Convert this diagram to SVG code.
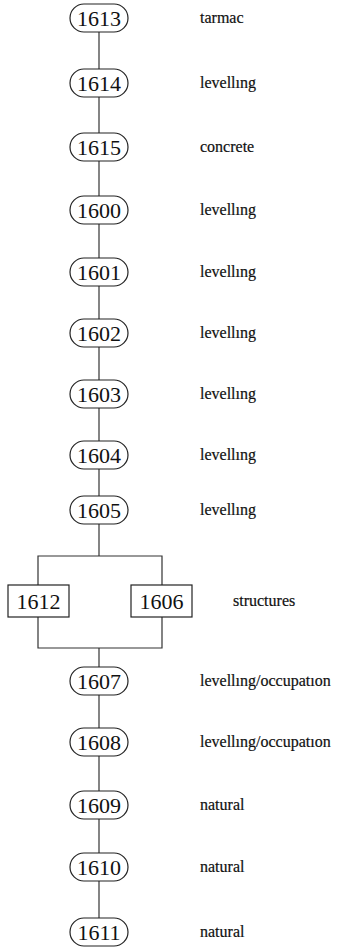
<svg xmlns="http://www.w3.org/2000/svg" width="337" height="951" viewBox="0 0 337 951">
<style>
.n rect{fill:#fff;stroke:#222;stroke-width:1.2}
.n text{font-family:"Liberation Serif",serif;font-size:22px;fill:#111;text-anchor:middle}
.lab{font-family:"Liberation Serif",serif;font-size:16px;fill:#111;stroke:#111;stroke-width:0.2}
.c{stroke:#333;stroke-width:1.2;fill:none}
</style>
<rect width="337" height="951" fill="#fff"/>
<g id="connectors" class="c">
<line x1="99" y1="18" x2="99" y2="556"/>
<line x1="99" y1="648" x2="99" y2="932"/>
<polyline points="38,585 38,556 162,556 162,585"/>
<polyline points="38,617 38,648 162,648 162,617"/>
</g>
<g id="n1613" class="n"><rect x="70" y="4" width="58" height="28" rx="14"/><text x="99" y="25.5">1613</text></g>
<g id="n1614" class="n"><rect x="70" y="69" width="58" height="28" rx="14"/><text x="99" y="90.5">1614</text></g>
<g id="n1615" class="n"><rect x="70" y="133" width="58" height="28" rx="14"/><text x="99" y="154.5">1615</text></g>
<g id="n1600" class="n"><rect x="70" y="196" width="58" height="28" rx="14"/><text x="99" y="217.5">1600</text></g>
<g id="n1601" class="n"><rect x="70" y="258" width="58" height="28" rx="14"/><text x="99" y="279.5">1601</text></g>
<g id="n1602" class="n"><rect x="70" y="319" width="58" height="28" rx="14"/><text x="99" y="340.5">1602</text></g>
<g id="n1603" class="n"><rect x="70" y="380" width="58" height="28" rx="14"/><text x="99" y="401.5">1603</text></g>
<g id="n1604" class="n"><rect x="70" y="441" width="58" height="28" rx="14"/><text x="99" y="462.5">1604</text></g>
<g id="n1605" class="n"><rect x="70" y="496" width="58" height="28" rx="14"/><text x="99" y="517.5">1605</text></g>
<g id="n1612" class="n"><rect x="8" y="585" width="61" height="32"/><text x="38.5" y="608.5">1612</text></g>
<g id="n1606" class="n"><rect x="131" y="585" width="61" height="32"/><text x="161.5" y="608.5">1606</text></g>
<g id="n1607" class="n"><rect x="70" y="667" width="58" height="28" rx="14"/><text x="99" y="688.5">1607</text></g>
<g id="n1608" class="n"><rect x="70" y="728" width="58" height="28" rx="14"/><text x="99" y="749.5">1608</text></g>
<g id="n1609" class="n"><rect x="70" y="791" width="58" height="28" rx="14"/><text x="99" y="812.5">1609</text></g>
<g id="n1610" class="n"><rect x="70" y="853" width="58" height="28" rx="14"/><text x="99" y="874.5">1610</text></g>
<g id="n1611" class="n"><rect x="70" y="918" width="58" height="28" rx="14"/><text x="99" y="939.5">1611</text></g>
<g id="labels">
<text class="lab" x="200" y="23">tarmac</text>
<text class="lab" x="200" y="88">levellıng</text>
<text class="lab" x="200" y="152">concrete</text>
<text class="lab" x="200" y="215">levellıng</text>
<text class="lab" x="200" y="277">levellıng</text>
<text class="lab" x="200" y="338">levellıng</text>
<text class="lab" x="200" y="399">levellıng</text>
<text class="lab" x="200" y="460">levellıng</text>
<text class="lab" x="200" y="515">levellıng</text>
<text class="lab" x="233" y="606">structures</text>
<text class="lab" x="200" y="686">levellıng/occupatıon</text>
<text class="lab" x="200" y="747">levellıng/occupatıon</text>
<text class="lab" x="200" y="810">natural</text>
<text class="lab" x="200" y="872">natural</text>
<text class="lab" x="200" y="937">natural</text>
</g>
</svg>
